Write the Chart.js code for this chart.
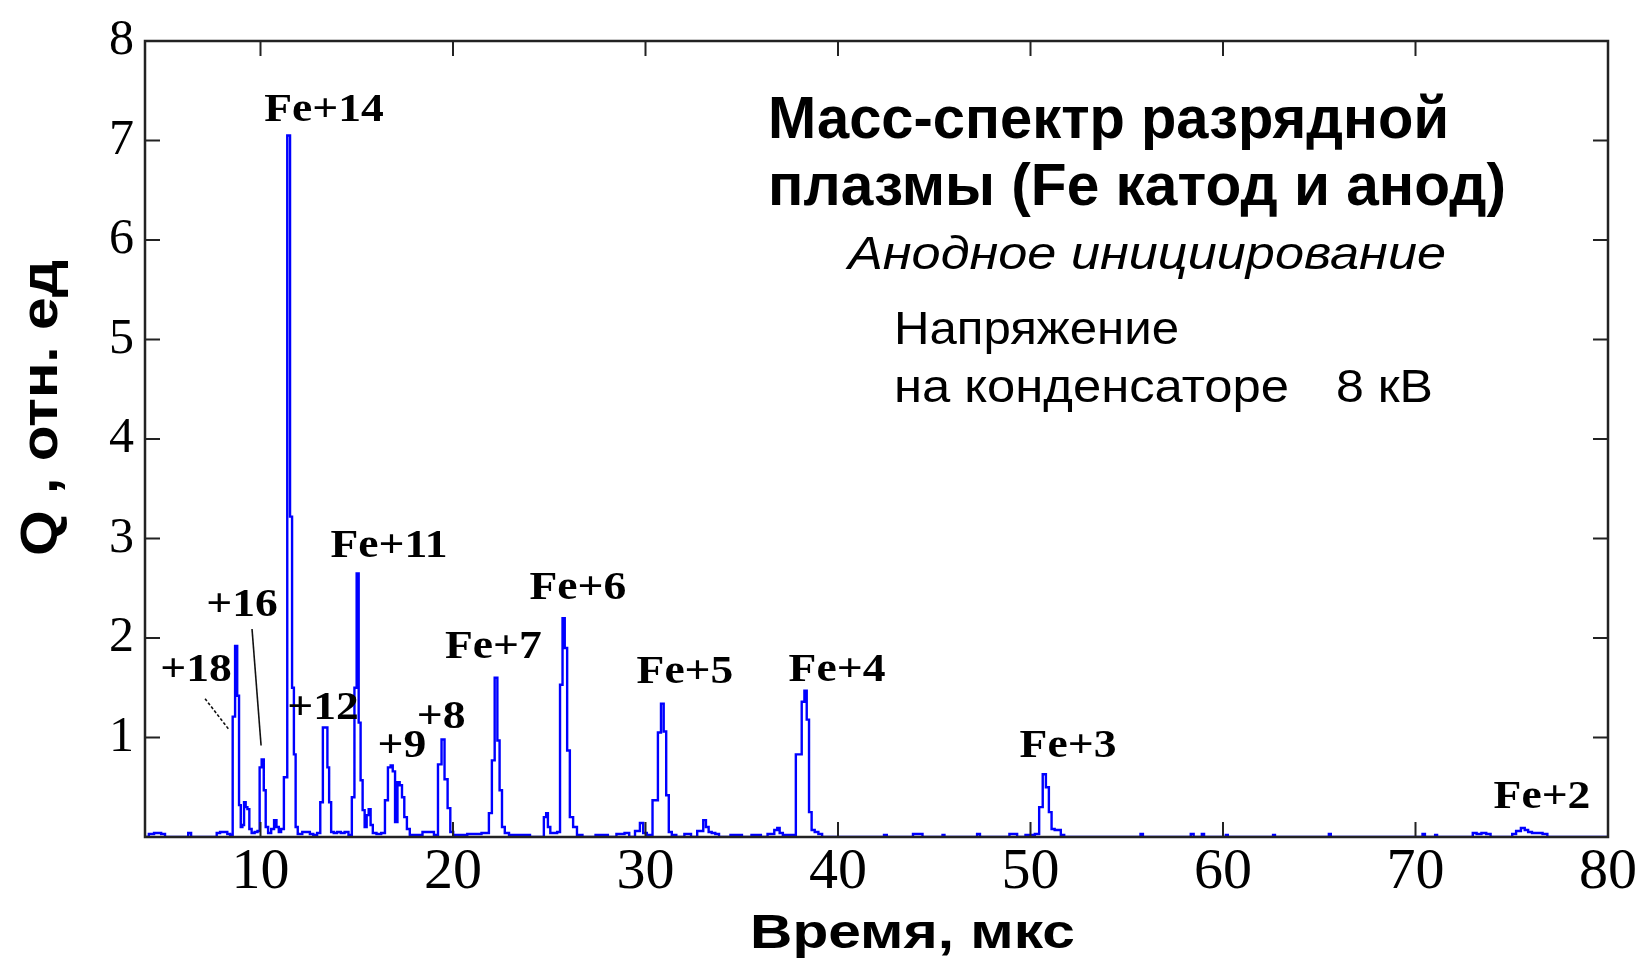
<!DOCTYPE html>
<html>
<head>
<meta charset="utf-8">
<title>Масс-спектр разрядной плазмы</title>
<script src="https://cdn.jsdelivr.net/npm/chart.js@4.4.1/dist/chart.umd.min.js"></script>
<style>
  html, body { margin: 0; padding: 0; background: #fff; }
  #wrap { width: 1646px; height: 960px; position: relative; }
</style>
</head>
<body>
<div id="wrap"><canvas id="spectrum"></canvas></div>
<script>
// time of flight, us
var times = [
  4.0, 4.4, 4.54, 4.74, 4.94, 5.14, 6.17, 6.32, 6.47, 7.65, 7.8, 8.0, 8.2, 8.35, 8.49,
  8.62, 8.74, 8.84, 8.93, 9.02, 9.1, 9.19, 9.27, 9.37, 9.47, 9.61, 9.78, 9.91,
  10.0, 10.12, 10.22, 10.32, 10.47, 10.64, 10.77, 10.89, 11.01, 11.13,
  11.3, 11.48, 11.59, 11.69, 11.78, 11.87, 12.0, 12.34, 12.49, 12.64, 12.84, 13.04,
  13.17, 13.31, 13.43, 13.52, 13.61, 13.73, 13.88, 14.07, 14.27, 14.47, 14.67,
  14.82, 14.94, 15.05, 15.15, 15.25, 15.36, 15.46, 15.57, 15.67, 15.77, 15.9, 16.15, 16.39,
  16.54, 16.7, 16.82, 16.92, 17.06, 17.17, 17.29, 17.41, 17.53, 17.68, 17.83, 18.12, 18.71, 18.91, 19.11,
  19.33, 19.48, 19.64, 19.8, 19.92, 20.1, 21.38, 21.58, 21.78,
  21.95, 22.09, 22.24, 22.37, 22.47, 22.62, 22.76, 23.06, 23.36, 24.64,
  24.8, 24.88, 24.98, 25.13, 25.33, 25.49,
  25.63, 25.75, 25.86, 26.0, 26.14, 26.34, 26.54, 26.91, 27.9, 28.19, 28.79, 29.03, 29.28,
  29.63, 29.79, 29.97, 30.17,
  30.56, 30.73, 30.88, 31.01, 31.14, 31.28, 31.45, 31.75, 32.29, 32.44,
  32.93, 33.07, 33.21, 33.35, 33.53, 33.72, 33.92, 34.91, 35.11, 35.9, 36.09,
  36.59, 36.79, 36.9, 37.04, 37.23, 37.58,
  38.04, 38.19, 38.32, 38.43, 38.56, 38.7, 38.88, 39.08, 39.27,
  42.32, 42.46, 42.61, 43.8, 43.99, 44.29, 44.49, 45.38, 45.48, 45.58, 47.15, 47.3, 47.45,
  48.83, 48.98, 49.23, 49.38, 50.1, 50.35,
  50.55, 50.72, 50.88, 51.03, 51.16, 51.35, 51.5, 51.65, 51.85,
  55.65, 55.78, 55.9, 58.25, 58.4, 58.55, 58.85, 58.95, 59.08, 60.1, 60.2, 60.3,
  62.55, 62.65, 62.75, 65.45, 65.55, 65.65, 70.3, 70.43, 70.55, 70.97, 71.07, 71.17,
  72.9, 73.05, 73.3, 73.55, 73.8, 74.0,
  74.95, 75.1, 75.35, 75.6, 75.75, 75.95, 76.15, 76.45, 76.75, 76.95, 80.0
];
// ion charge signal Q, rel. units
var charge = [
  0, 0.03, 0.04, 0.04, 0.03, 0, 0, 0.04, 0, 0, 0.04, 0.05, 0.05, 0.03, 0.02,
  1.21, 1.92, 1.42, 0.32, 0.1, 0.12, 0.35, 0.3, 0.28, 0.08, 0.04, 0.05, 0.06,
  0.7, 0.78, 0.47, 0.1, 0.04, 0.08, 0.17, 0.1, 0.05, 0.08,
  0.6, 7.05, 3.22, 1.5, 0.83, 0.1, 0.03, 0.05, 0.05, 0.03, 0.02, 0.04,
  0.35, 1.1, 1.1, 0.7, 0.35, 0.05, 0.04, 0.05, 0.04, 0.05, 0.02,
  0.4, 1.5, 2.65, 1.15, 0.57, 0.27, 0.1, 0.22, 0.28, 0.12, 0.04, 0.03, 0.04,
  0.37, 0.7, 0.72, 0.66, 0.15, 0.55, 0.52, 0.4, 0.2, 0.08, 0.02, 0.02, 0.05, 0.05, 0.02,
  0.73, 0.98, 0.58, 0.29, 0.05, 0.02, 0.03, 0.04, 0.04,
  0.24, 0.77, 1.6, 0.97, 0.47, 0.1, 0.04, 0.02, 0.02, 0,
  0.2, 0.24, 0.1, 0.04, 0.04, 0.05,
  1.53, 2.2, 1.9, 0.87, 0.2, 0.1, 0.02, 0, 0.02, 0, 0.03, 0.04, 0,
  0.06, 0.14, 0.04, 0.02,
  0.37, 1.05, 1.34, 1.06, 0.42, 0.05, 0.02, 0, 0.03, 0,
  0.06, 0.17, 0.1, 0.05, 0.04, 0.03, 0, 0.02, 0, 0.02, 0,
  0.03, 0.07, 0.09, 0.04, 0.02, 0.02,
  0.83, 1.36, 1.47, 1.18, 0.25, 0.07, 0.05, 0.03, 0,
  0, 0.02, 0, 0, 0.03, 0.03, 0, 0, 0.02, 0, 0, 0.03, 0,
  0, 0.03, 0.03, 0, 0.02, 0.03,
  0.3, 0.63, 0.5, 0.25, 0.08, 0.07, 0.07, 0.02, 0,
  0, 0.03, 0, 0, 0.03, 0, 0, 0.03, 0, 0, 0.02, 0,
  0, 0.02, 0, 0, 0.03, 0, 0, 0.03, 0, 0, 0.02, 0,
  0, 0.04, 0.03, 0.04, 0.03, 0,
  0, 0.03, 0.06, 0.09, 0.07, 0.05, 0.04, 0.04, 0.03, 0, 0
];

var xTickValues = [10, 20, 30, 40, 50, 60, 70, 80];
var yTickValues = [1, 2, 3, 4, 5, 6, 7, 8];

// peak names and where they sit (time, Q of the text baseline)
var peakNames = ["Fe+14", "+16", "+18", "+12", "Fe+11", "+9", "+8", "Fe+7", "Fe+6", "Fe+5", "Fe+4", "Fe+3", "Fe+2"];
var peakLabelTime = [13.3, 9.04, 6.65, 13.25, 16.68, 17.35, 19.38, 22.1, 26.49, 32.05, 39.95, 51.95, 76.57];
var peakLabelQ = [7.2, 2.22, 1.57, 1.19, 2.81, 0.8, 1.1, 1.8, 2.39, 1.55, 1.57, 0.8, 0.29];

// leader lines from the +18 and +16 labels down to their peaks
var leaderFrom = [[7.12, 1.39], [9.56, 2.09]];
var leaderTo = [[8.36, 1.08], [10.03, 0.92]];

var notes = [
  { text: "Масс-спектр разрядной", x: 768, y: 138, font: "bold 60px 'Liberation Sans'", w: 681 },
  { text: "плазмы (Fe катод и анод)", x: 768, y: 205, font: "bold 60px 'Liberation Sans'", w: 738 },
  { text: "Анодное инициирование", x: 848, y: 269, font: "italic 46px 'Liberation Sans'", w: 598 },
  { text: "Напряжение", x: 894, y: 344, font: "46px 'Liberation Sans'", w: 285 },
  { text: "на конденсаторе", x: 894, y: 402, font: "46px 'Liberation Sans'", w: 395 },
  { text: "8 кВ", x: 1336, y: 402, font: "46px 'Liberation Sans'", w: 97 }
];

function drawFitted(ctx, text, x, y, font, w, align) {
  ctx.save();
  ctx.font = font;
  var sx = w ? w / ctx.measureText(text).width : 1;
  ctx.translate(x, y);
  ctx.scale(sx, 1);
  ctx.textAlign = align || "left";
  ctx.textBaseline = "alphabetic";
  ctx.fillStyle = "#000";
  ctx.fillText(text, 0, 0);
  ctx.restore();
}

var framePlugin = {
  id: "frame",
  afterDatasetsDraw: function(chart) {
    var ctx = chart.ctx;
    var a = chart.chartArea;
    var xs = chart.scales.x, ys = chart.scales.y;
    var tick = 15;
    ctx.save();
    ctx.strokeStyle = "#222";
    ctx.lineWidth = 2.5;
    ctx.strokeRect(a.left, a.top, a.right - a.left, a.bottom - a.top);
    ctx.lineWidth = 2;
    ctx.beginPath();
    xTickValues.forEach(function(v) {
      var px = xs.getPixelForValue(v);
      ctx.moveTo(px, a.bottom); ctx.lineTo(px, a.bottom - tick);
      ctx.moveTo(px, a.top); ctx.lineTo(px, a.top + tick);
    });
    yTickValues.forEach(function(v) {
      var py = ys.getPixelForValue(v);
      ctx.moveTo(a.left, py); ctx.lineTo(a.left + tick, py);
      ctx.moveTo(a.right, py); ctx.lineTo(a.right - tick, py);
    });
    ctx.stroke();

    // leader lines
    ctx.strokeStyle = "#111";
    ctx.lineWidth = 1.6;
    leaderFrom.forEach(function(p, i) {
      ctx.setLineDash(i === 0 ? [3, 2] : []);
      ctx.beginPath();
      ctx.moveTo(xs.getPixelForValue(p[0]), ys.getPixelForValue(p[1]));
      ctx.lineTo(xs.getPixelForValue(leaderTo[i][0]), ys.getPixelForValue(leaderTo[i][1]));
      ctx.stroke();
    });
    ctx.setLineDash([]);
    ctx.restore();

    // peak labels
    peakNames.forEach(function(name, i) {
      ctx.save();
      ctx.font = "bold 40px 'Liberation Serif'";
      ctx.translate(xs.getPixelForValue(peakLabelTime[i]), ys.getPixelForValue(peakLabelQ[i]));
      ctx.scale(1.14, 1);
      ctx.textAlign = "center";
      ctx.fillStyle = "#000";
      ctx.fillText(name, 0, 0);
      ctx.restore();
    });

    notes.forEach(function(n) {
      drawFitted(ctx, n.text, n.x, n.y, n.font, n.w);
    });

    // axis titles
    drawFitted(ctx, "Время, мкс", 750, 948, "bold 49px 'Liberation Sans'", 325);
    ctx.save();
    ctx.translate(57, 408);
    ctx.rotate(-Math.PI / 2);
    ctx.font = "bold 52px 'Liberation Sans'";
    var sx = 296 / ctx.measureText("Q , отн. ед").width;
    ctx.scale(sx, 1);
    ctx.textAlign = "center";
    ctx.fillStyle = "#000";
    ctx.fillText("Q , отн. ед", 0, 0);
    ctx.restore();
  }
};

new Chart(document.getElementById("spectrum"), {
  type: "line",
  data: {
    datasets: [{
      label: "Q",
      data: times.map(function(t, i) { return { x: t, y: charge[i] }; }),
      borderColor: "#0000ff",
      borderWidth: 2.4,
      pointRadius: 0,
      stepped: "middle",
      fill: false
    }]
  },
  options: {
    responsive: true,
    maintainAspectRatio: false,
    animation: false,
    layout: { padding: { top: 35, right: 38, left: 0, bottom: 0 } },
    plugins: { legend: { display: false }, tooltip: { enabled: false } },
    scales: {
      x: {
        type: "linear",
        min: 4,
        max: 80,
        grid: { display: false, drawTicks: false },
        border: { display: false },
        ticks: {
          color: "#000",
          font: { family: "'Liberation Serif'", size: 58 },
          padding: 1,
          maxRotation: 0,
          autoSkip: false
        },
        afterBuildTicks: function(s) {
          s.ticks = xTickValues.map(function(v) { return { value: v }; });
        },
        afterFit: function(s) { s.height = 123; }
      },
      y: {
        min: 0,
        max: 8,
        grid: { display: false, drawTicks: false },
        border: { display: false },
        ticks: {
          stepSize: 1,
          color: "#000",
          font: { family: "'Liberation Serif'", size: 50 },
          padding: 11,
          callback: function(v) { return v === 0 ? "" : v; }
        },
        afterFit: function(s) { s.width = 145; }
      }
    }
  },
  plugins: [framePlugin]
});
</script>
</body>
</html>
